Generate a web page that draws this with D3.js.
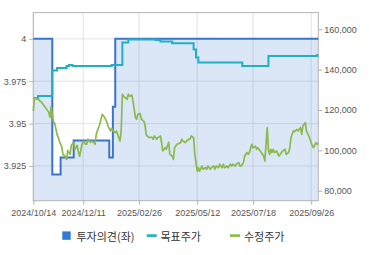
<!DOCTYPE html>
<html><head><meta charset="utf-8">
<script src="https://cdn.jsdelivr.net/npm/d3@7"></script>
<style>body{margin:0;background:#fff;overflow:hidden}</style>
</head><body><svg id="c" width="370" height="255"></svg>
<script>
// ---- data ----
const xTickIdx = [0, 42, 89, 138, 185, 234];
const xTickLabels = ["2024/10/14","2024/12/11","2025/02/26","2025/05/12","2025/07/18","2025/09/26"];
const leftTicks = [3.925, 3.95, 3.975, 4];
const rightTicks = [80000, 100000, 120000, 140000, 160000];

const opinionIdx = [0, 16, 23, 34, 64, 67, 69, 240];
const opinionVal = [4, 3.92, 3.93, 3.94, 3.93, 3.96, 4, 4];

const targetIdx = [0, 4, 16, 20, 28, 30, 33, 66, 75, 80, 103, 107, 117, 135, 137, 139, 176, 198, 239, 240];
const targetVal = [125800, 126900, 139500, 140800, 141800, 142300, 141800, 142300, 153400, 154900, 154700, 153900, 153000, 150000, 146000, 143500, 141800, 146700, 147200, 147200];

const priceIdx = [0,1,4,7,10,13,14,15,17,18,20,21,22,24,25,27,28,29,31,32,34,35,37,38,39,41,42,44,45,46,48,49,51,52,53,55,56,58,60,62,63,65,66,67,69,70,72,73,74,75,76,79,80,81,83,84,86,87,88,90,91,93,94,95,97,98,100,101,102,104,105,107,108,109,111,112,114,115,117,118,119,121,124,125,126,128,129,131,132,133,135,136,138,139,140,142,143,145,146,147,149,150,152,153,154,156,157,159,160,161,163,164,166,167,168,170,171,173,174,175,177,178,180,181,182,184,185,187,188,189,191,192,194,195,197,198,199,200,201,202,203,205,206,207,209,210,212,213,215,216,217,219,220,222,223,225,226,227,229,230,232,233,235,236,238,239,240];
const priceVal = [119500,125800,125300,123800,121300,118800,116400,121800,113900,113400,107900,106400,104500,101500,98000,97000,95500,100000,98000,102500,104000,100500,102500,99000,97000,103000,104500,103000,103000,105500,104000,104500,104000,103000,108000,111400,112900,117800,116400,113900,111900,109600,110900,109600,108800,109600,106300,104600,109600,127800,126800,125300,127800,126800,127400,124400,116200,115400,117800,118200,115400,114500,112900,107900,106400,106400,106400,105500,107100,105500,106300,107100,104000,99700,101300,100500,104000,98000,97200,95500,101300,103000,103800,105500,104600,103800,104600,105500,105500,107100,106300,98000,89700,91400,89700,92200,90600,91400,90600,92200,90600,91400,92200,90600,92200,91400,93100,91400,93100,91400,92200,91400,93100,92200,93100,92200,93100,93900,92200,92200,93900,97200,98900,98000,98900,103000,101300,102100,100500,101300,99700,98900,97200,94700,111300,100000,98000,100500,98900,100500,98900,99700,98000,97200,98900,99700,100500,98000,98900,101300,106300,109600,109300,110400,109600,111300,107900,112000,113700,109600,107100,105500,102100,101300,103800,103000,103800];

const legendLabels = ["투자의견(좌)", "목표주가", "수정주가"];
const colors = {opinion: "#3a75cc", target: "#1fb0c6", price: "#8cba4a", legendBox: "#2f7ad8"};

// ---- layout ----
const svg = d3.select("#c");
const X0 = 33.3, X1 = 318.3, Y0 = 12.6, Y1 = 200.7;
const x = d3.scaleLinear().domain([0, 240]).range([X0, X1]);
const yL = d3.scaleLinear().domain([3.9045, 4.0155]).range([Y1, Y0]);
const yR = d3.scaleLinear().domain([75040, 168230]).range([Y1, Y0]);

const axisFont = "'Liberation Sans', Arial, sans-serif";

// grid
const grid = svg.append("g").attr("stroke", "#e3e3e3").attr("stroke-width", 1);
xTickIdx.forEach(i => grid.append("line").attr("x1", x(i)).attr("x2", x(i)).attr("y1", Y0).attr("y2", Y1));
leftTicks.forEach(v => grid.append("line").attr("x1", X0).attr("x2", X1).attr("y1", yL(v)).attr("y2", yL(v)));

// opinion area + line
const op = opinionIdx.map((d, i) => [d, opinionVal[i]]);
svg.append("path").datum(op)
  .attr("d", d3.area().curve(d3.curveStepAfter).x(d => x(d[0])).y0(Y1).y1(d => yL(d[1])))
  .attr("fill", colors.opinion).attr("fill-opacity", 0.18);

// plot border
svg.append("rect").attr("x", X0).attr("y", Y0).attr("width", X1 - X0).attr("height", Y1 - Y0)
  .attr("fill", "none").attr("stroke", "#b4b4b4").attr("stroke-width", 1);

svg.append("path").datum(op)
  .attr("d", d3.line().curve(d3.curveStepAfter).x(d => x(d[0])).y(d => yL(d[1])))
  .attr("fill", "none").attr("stroke", colors.opinion).attr("stroke-width", 2);

// target line
const tg = targetIdx.map((d, i) => [d, targetVal[i]]);
svg.append("path").datum(tg)
  .attr("d", d3.line().curve(d3.curveStepAfter).x(d => x(d[0])).y(d => yR(d[1])))
  .attr("fill", "none").attr("stroke", colors.target).attr("stroke-width", 2);

// price line
const pr = priceIdx.map((d, i) => [d, priceVal[i]]);
svg.append("path").datum(pr)
  .attr("d", d3.line().x(d => x(d[0])).y(d => yR(d[1])))
  .attr("fill", "none").attr("stroke", colors.price).attr("stroke-width", 1.7).attr("stroke-linejoin", "round");

// axes
function styleAxis(g) {
  g.select(".domain").remove();
  g.selectAll(".tick line").attr("stroke", "#b4b4b4");
  g.selectAll(".tick text").attr("fill", "#555").style("font-family", axisFont).style("font-size", "9px");
}
svg.append("g").attr("transform", `translate(${X0},0)`)
  .call(d3.axisLeft(yL).tickValues(leftTicks).tickFormat(d3.format("")).tickSize(4).tickPadding(3))
  .call(styleAxis);
svg.append("g").attr("transform", `translate(${X1},0)`)
  .call(d3.axisRight(yR).tickValues(rightTicks).tickFormat(d3.format(",")).tickSize(4).tickPadding(2))
  .call(styleAxis);
svg.append("g").attr("transform", `translate(0,${Y1})`)
  .call(d3.axisBottom(x).tickValues(xTickIdx).tickFormat((d, i) => xTickLabels[i]).tickSize(4).tickPadding(5))
  .call(styleAxis);

// legend
const lg = svg.append("g").style("font-family", "'Noto Sans CJK KR', sans-serif").style("font-size", "11px");
lg.append("rect").attr("x", 62.3).attr("y", 231.4).attr("width", 8.4).attr("height", 8.4).attr("fill", colors.legendBox);
lg.append("text").attr("x", 76.5).attr("y", 235.6).attr("dominant-baseline", "central").attr("fill", "#333").text(legendLabels[0]);
lg.append("rect").attr("x", 146.7).attr("y", 234.3).attr("width", 10).attr("height", 2.6).attr("fill", colors.target);
lg.append("text").attr("x", 160.5).attr("y", 235.6).attr("dominant-baseline", "central").attr("fill", "#333").text(legendLabels[1]);
lg.append("rect").attr("x", 230).attr("y", 234.3).attr("width", 10).attr("height", 2.6).attr("fill", colors.price);
lg.append("text").attr("x", 244).attr("y", 235.6).attr("dominant-baseline", "central").attr("fill", "#333").text(legendLabels[2]);
</script>
</body></html>
